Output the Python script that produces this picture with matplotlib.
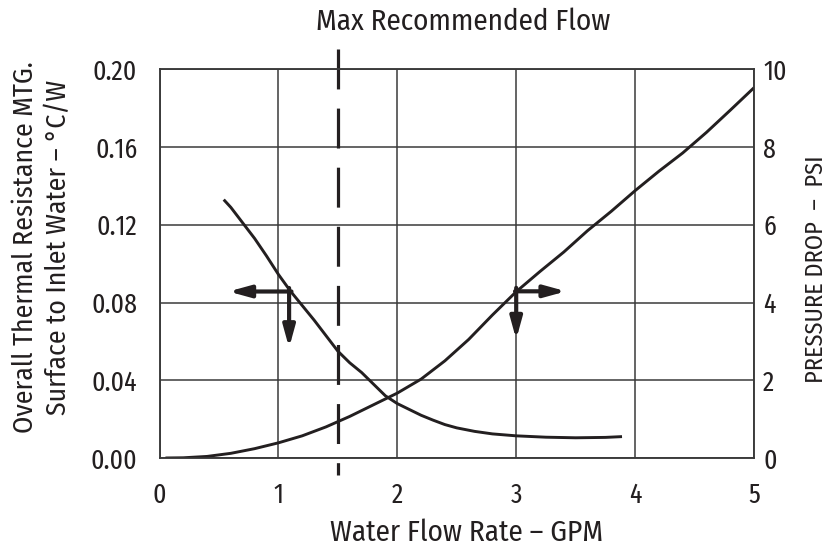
import numpy as np
import matplotlib.pyplot as plt

plt.rcParams['font.family'] = ['Fira Sans Condensed', 'DejaVu Sans']
tickfont = ['Fira Sans Extra Condensed', 'Fira Sans Condensed', 'DejaVu Sans']

# thermal resistance curve (left axis, C/W)
flow_r = [0.54, 0.6, 0.7, 0.8, 0.9, 1.0, 1.1, 1.2, 1.3, 1.4, 1.5, 1.6, 1.7,
          1.8, 1.9, 2.0, 2.1, 2.2, 2.3, 2.4, 2.5, 2.65, 2.8, 3.0, 3.25, 3.5,
          3.75, 3.89]
resist = [0.133, 0.129, 0.121, 0.113, 0.104, 0.0945, 0.0860, 0.0785, 0.0710,
          0.0630, 0.0550, 0.0490, 0.0440, 0.0380, 0.0320, 0.0280, 0.0250,
          0.0220, 0.0195, 0.0172, 0.0155, 0.0137, 0.0124, 0.0114, 0.0107,
          0.0104, 0.0106, 0.0110]

# pressure drop curve (right axis, PSI)
flow_p = [0.05, 0.2, 0.4, 0.6, 0.8, 1.0, 1.2, 1.4, 1.6, 1.8, 2.0, 2.2, 2.4,
          2.6, 2.8, 3.0, 3.2, 3.4, 3.6, 3.8, 4.0, 4.2, 4.4, 4.6, 4.8, 5.0]
psi = [0.0, 0.005, 0.04, 0.12, 0.24, 0.39, 0.57, 0.80, 1.07, 1.37, 1.67, 2.03,
       2.50, 3.05, 3.68, 4.28, 4.8, 5.3, 5.85, 6.35, 6.88, 7.38, 7.85, 8.38,
       8.95, 9.53]

max_flow = 1.5
xticks = [0, 1, 2, 3, 4, 5]
lticks = [0.00, 0.04, 0.08, 0.12, 0.16, 0.20]
rticks = [0, 2, 4, 6, 8, 10]

ink = '#231f20'
gridc = '#3a3a3a'

fig = plt.figure(figsize=(8.36, 5.5), dpi=100)
ax = fig.add_axes([0.1908, 0.1673, 0.7111, 0.7064])
ax2 = ax.twinx()

ax.set_xlim(0, 5)
ax.set_ylim(0, 0.2)
ax2.set_ylim(0, 10)
ax.set_xticks(xticks)
ax.set_yticks(lticks)
ax2.set_yticks(rticks)
ax.set_xticklabels([str(t) for t in xticks], family=tickfont)
ax.set_yticklabels(['%.2f' % t for t in lticks], family=tickfont)
ax2.set_yticklabels([str(t) for t in rticks], family=tickfont)

ax.grid(True, color=gridc, lw=1.1)
ax.set_axisbelow(True)
for a in (ax, ax2):
    for s in a.spines.values():
        s.set_color(gridc)
        s.set_linewidth(1.1)
ax.tick_params(axis='both', length=0, labelsize=20, colors=ink)
ax.tick_params(axis='x', pad=17)
ax.tick_params(axis='y', pad=16)
ax2.tick_params(axis='y', length=0, labelsize=20, colors=ink, pad=6.5)

ax.plot(flow_r, resist, color=ink, lw=2.1, solid_capstyle='butt')
ax2.plot(flow_p, psi, color=ink, lw=2.1, solid_capstyle='butt')

# max recommended flow marker
ax.plot([max_flow, max_flow], [0.2103, -0.0088], color=ink, lw=2.3,
        dashes=(12.5, 6.0), clip_on=False)

# axis pointer arrows
aprops = dict(arrowstyle='-|>,head_width=0.22,head_length=0.8', lw=3,
              color=ink, mutation_scale=16, shrinkA=0, shrinkB=0)
ax.annotate('', xy=(0.58, 0.0857), xytext=(1.11, 0.0857), arrowprops=aprops)
ax.annotate('', xy=(1.09, 0.0567), xytext=(1.09, 0.0875), arrowprops=aprops)
ax2.annotate('', xy=(3.42, 4.29), xytext=(2.99, 4.29), arrowprops=aprops)
ax2.annotate('', xy=(3.0, 3.05), xytext=(3.0, 4.38), arrowprops=aprops)

# titles and axis labels
fig.text(0.5538, 0.96, 'Max Recommended Flow', ha='center', va='center',
         fontsize=21, color=ink)
fig.text(0.5583, 0.0309, 'Water Flow Rate \u2013 GPM', ha='center', va='center',
         fontsize=21, color=ink)
fig.text(0.0502, 0.5509,
         'Overall Thermal Resistance MTG.\nSurface to Inlet Water \u2013 \u00b0C/W',
         ha='center', va='center', rotation=90, fontsize=20, color=ink,
         linespacing=1.3, multialignment='center')
fig.text(0.976, 0.511, 'PRESSURE DROP  \u2013  PSI', ha='center', va='center',
         rotation=90, fontsize=17.5, color=ink)

fig.savefig('out.png', dpi=100)
